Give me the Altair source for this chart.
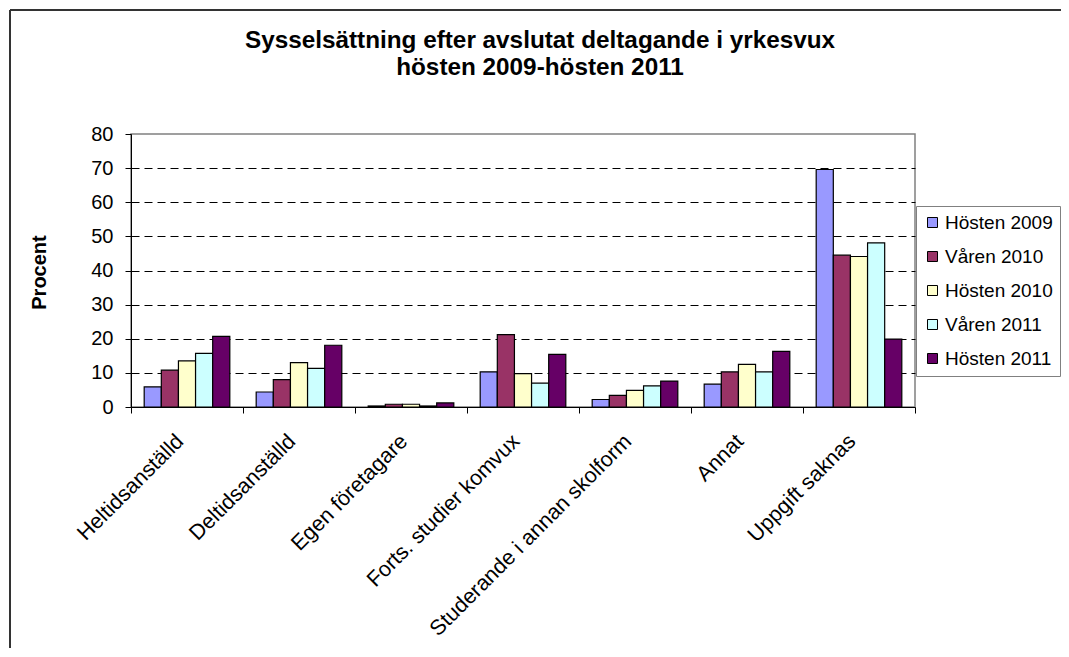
import altair as alt
import pandas as pd

categories = ["Heltidsanställd", "Deltidsanställd", "Egen företagare",
              "Forts. studier komvux", "Studerande i annan skolform",
              "Annat", "Uppgift saknas"]
series = ["Hösten 2009", "Våren 2010", "Hösten 2010", "Våren 2011", "Hösten 2011"]
hosten_2009 = [5.9, 4.4, 0.3, 10.3, 2.2, 6.7, 69.6]
varen_2010 = [10.8, 8.0, 0.8, 21.2, 3.4, 10.3, 44.5]
hosten_2010 = [13.5, 13.0, 0.8, 9.8, 4.9, 12.5, 44.1]
varen_2011 = [15.7, 11.3, 0.3, 7.0, 6.2, 10.3, 48.1]
hosten_2011 = [20.7, 18.1, 1.2, 15.4, 7.6, 16.3, 19.9]
colors = ["#9999FF", "#993366", "#FFFFCC", "#CCFFFF", "#660066"]
y_ticks = [0, 10, 20, 30, 40, 50, 60, 70, 80]

title_line1 = "Sysselsättning efter avslutat deltagande i yrkesvux"
title_line2 = "hösten 2009-hösten 2011"

values_by_series = [hosten_2009, varen_2010, hosten_2010, varen_2011, hosten_2011]
rows = []
for s, vals in zip(series, values_by_series):
    for c, v in zip(categories, vals):
        rows.append({"Kategori": c, "Period": s, "Procent": v})
df = pd.DataFrame(rows)

FONT = "Liberation Sans, Arial, sans-serif"

bars = alt.Chart(df).mark_bar(stroke="black", strokeWidth=1.2).encode(
    x=alt.X("Kategori:N", sort=categories,
            scale=alt.Scale(paddingInner=0, paddingOuter=0),
            axis=alt.Axis(title=None, labelAngle=-45, labelAlign="right",
                          labelBaseline="middle", labelFontSize=21.5,
                          labelPadding=25, labelOffset=-7, tickSize=6,
                          tickBand="extent",
                          tickColor="black", domainColor="black",
                          labelColor="black", labelLimit=400, grid=False)),
    xOffset=alt.XOffset("Period:N", sort=series,
                        scale=alt.Scale(paddingInner=0, paddingOuter=0.77)),
    y=alt.Y("Procent:Q", scale=alt.Scale(domain=[0, 80], nice=False),
            axis=alt.Axis(values=y_ticks, title="Procent", titleFontSize=20,
                          titleFontWeight="bold", titleAngle=-90,
                          titleX=-92, titleY=138, titleBaseline="middle",
                          titleAlign="center",
                          labelFontSize=20, labelPadding=12, tickSize=6,
                          tickColor="black", domainColor="black",
                          labelColor="black", titleColor="black",
                          grid=True, gridColor="black", gridDash=[8, 5],
                          gridWidth=1,
                          gridOpacity={"condition": {"test": "datum.value === 80 || datum.value === 0", "value": 0}, "value": 1})),
    color=alt.Color("Period:N", sort=series,
                    scale=alt.Scale(domain=series, range=colors),
                    legend=alt.Legend(title=None, orient="none",
                                      legendX=785, legendY=72,
                                      symbolType="square", symbolSize=100,
                                      symbolStrokeColor="black",
                                      symbolStrokeWidth=1,
                                      labelFontSize=19, labelOffset=3,
                                      labelColor="black",
                                      labelExpr="datum.label + '        '",
                                      rowPadding=14, padding=7,
                                      strokeColor="#808080",
                                      labelLimit=400)),
)

title1 = alt.Chart(alt.Data(values=[{}])).mark_text(
    text=title_line1, fontSize=24.3, fontWeight="bold", font=FONT,
    align="center", baseline="alphabetic", color="black").encode(
    x=alt.value(409), y=alt.value(-86))
title2 = alt.Chart(alt.Data(values=[{}])).mark_text(
    text=title_line2, fontSize=24.3, fontWeight="bold", font=FONT,
    align="center", baseline="alphabetic", color="black").encode(
    x=alt.value(409), y=alt.value(-59))

frame_top = alt.Chart(alt.Data(values=[{}])).mark_rule(
    color="#333333", strokeWidth=2).encode(
    x=alt.value(-121), x2=alt.value(1100), y=alt.value(-124))
frame_left = alt.Chart(alt.Data(values=[{}])).mark_rule(
    color="#333333", strokeWidth=2).encode(
    x=alt.value(-121), y=alt.value(-124), y2=alt.value(700))

chart = alt.layer(bars, title1, title2, frame_top, frame_left).properties(
    width=784, height=273,
    padding={"left": 123, "top": 126, "right": 146, "bottom": 241},
    autosize=alt.AutoSizeParams(type="none"),
).configure(font=FONT).configure_view(
    stroke="#808080", strokeWidth=1.5
).configure_axis(labelFont=FONT, titleFont=FONT)

chart.save("out.html", embed_options={"renderer": "svg", "actions": False})
